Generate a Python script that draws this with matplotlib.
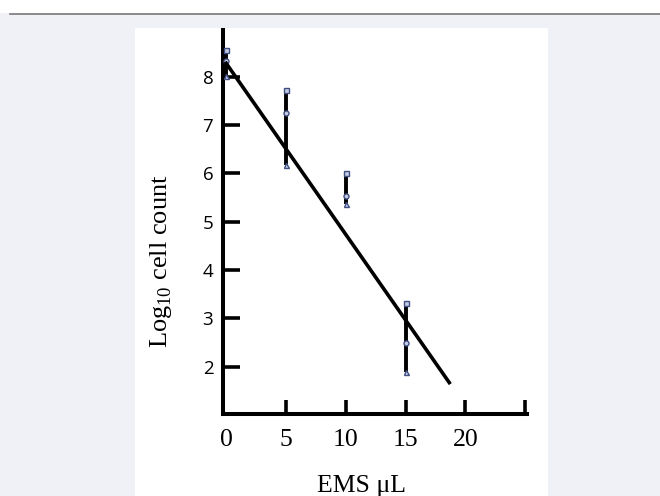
import matplotlib
matplotlib.use('Agg')
import matplotlib.pyplot as plt
from matplotlib.patches import Rectangle
from matplotlib.lines import Line2D

plt.rcParams['mathtext.fontset'] = 'custom'
plt.rcParams['mathtext.rm'] = 'Liberation Serif'

# EMS dose (uL) and log10 cell counts
ems_dose = [0, 5, 10, 15]
log_high = [8.55, 7.72, 6.01, 3.32]
log_mid = [8.33, 7.25, 5.54, 2.48]
log_low = [8.01, 6.17, 5.36, 1.89]

# fitted line end points
fit_x = [0, 18.65]
fit_y = [8.28, 1.67]

x_ticks = [0, 5, 10, 15, 20, 25]
x_ticklabels = ['0', '5', '10', '15', '20', '']
y_ticks = [2, 3, 4, 5, 6, 7, 8]

W, H = 660, 496
fig = plt.figure(figsize=(6.6, 4.96), dpi=100, facecolor='#f0f1f6')

# page decoration: white strip at top, grey rule, white panel
fig.patches.append(Rectangle((0, 1 - 13 / H), 1, 13 / H, transform=fig.transFigure,
                             facecolor='white', edgecolor='none', zorder=-2))
fig.lines.append(Line2D([10 / W, 1], [1 - 13.5 / H, 1 - 13.5 / H], transform=fig.transFigure,
                        color='#7a7a7a', linewidth=1.2, zorder=-1))
fig.patches.append(Rectangle((135 / W, 0), (548 - 135) / W, 1 - 28 / H, transform=fig.transFigure,
                             facecolor='white', edgecolor='none', zorder=-2))

ax = fig.add_axes([223 / W, (H - 414) / H, (527 - 223) / W, (414 - 30) / H])
ax.set_zorder(2)
ax.set_facecolor('none')

# error bars
ax.vlines(ems_dose, log_low, log_high, colors='black', linewidth=2.8, zorder=3)
mk = dict(linestyle='none', markersize=3.6, markeredgecolor='#3f4f80',
          markerfacecolor='#c5cde6', markeredgewidth=1.0, zorder=4)
ax.plot(ems_dose, log_high, marker='s', **mk)
ax.plot(ems_dose, log_mid, marker='o', **mk)
ax.plot(ems_dose, log_low, marker='^', **mk)

# regression line
ax.plot(fit_x, fit_y, color='black', linewidth=2.6, zorder=5)

ax.set_xlim(-0.27, 25.15)
ax.set_ylim(1.02, 8.97)

for s in ['top', 'right']:
    ax.spines[s].set_visible(False)
for s in ['left', 'bottom']:
    ax.spines[s].set_linewidth(2.9)

ax.set_xticks(x_ticks)
ax.set_xticklabels(x_ticklabels, family='Liberation Serif', fontsize=18.5)
ax.set_yticks(y_ticks)
ax.set_yticklabels([str(v) for v in y_ticks], family='Open Sans', fontsize=13.5)
ax.tick_params(axis='x', direction='in', length=10, width=2.6, pad=11)
ax.tick_params(axis='y', direction='in', length=12, width=2.6, pad=7)
ax.xaxis.get_major_ticks()[0].tick1line.set_visible(False)

ax.set_xlabel('EMS \u03bcL', family='Liberation Serif', fontsize=18.5)
ax.xaxis.set_label_coords(0.457, -0.16)
ax.set_ylabel(r'Log$_{10}$ cell count', family='Liberation Serif', fontsize=19)
ax.yaxis.set_label_coords(-0.16, 0.399)

fig.savefig('out.png', dpi=100, facecolor=fig.get_facecolor())
